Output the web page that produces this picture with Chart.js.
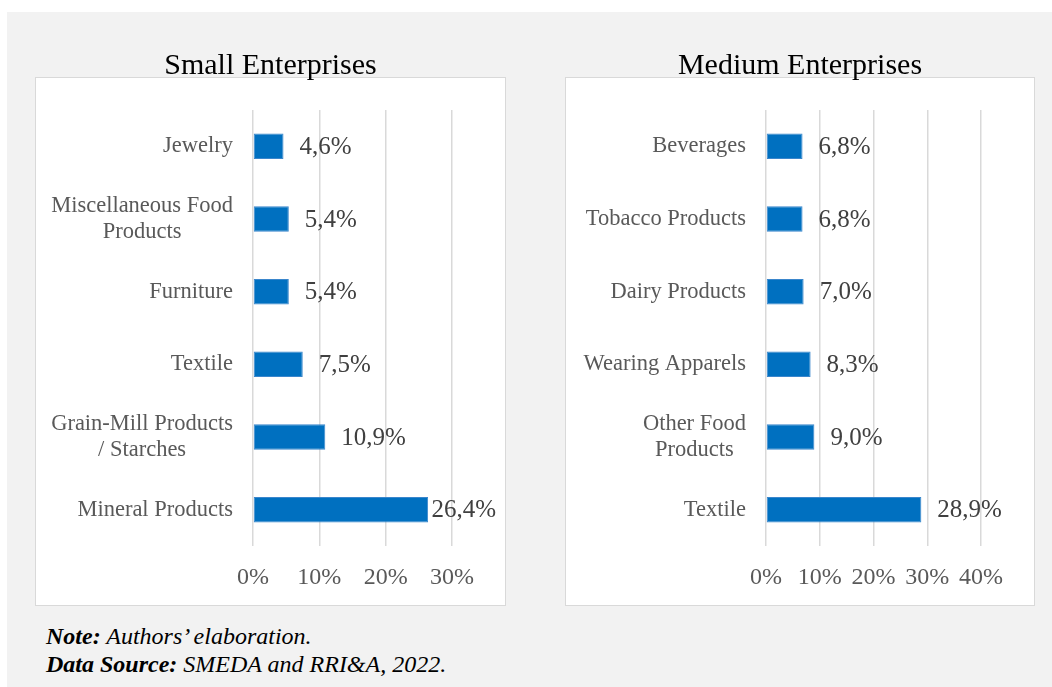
<!DOCTYPE html>
<html>
<head>
<meta charset="utf-8">
<script src="https://cdn.jsdelivr.net/npm/chart.js@4/dist/chart.umd.min.js"></script>
<style>
  html, body { margin: 0; padding: 0; background: #ffffff; }
  body { width: 1052px; height: 687px; position: relative; overflow: hidden; font-family: 'Liberation Serif', serif; }
  #backdrop { position: absolute; left: 7px; top: 12px; width: 1045px; height: 675px; background: #f2f2f2; }
  .panel { position: absolute; top: 77px; height: 529px; background: #ffffff; border: 1.5px solid #d9d9d9; box-sizing: border-box; }
  #panelSmall { left: 35px; width: 471px; }
  #panelMedium { left: 565px; width: 470px; }
  .wrap { position: absolute; top: 40px; height: 567px; }
  #wrapSmall { left: 36px; width: 469px; }
  #wrapMedium { left: 566px; width: 468px; }
  #notes { position: absolute; left: 46px; top: 622px; font-size: 24px; line-height: 28px; font-style: italic; color: #000; }
  #notes b { font-weight: bold; }
</style>
</head>
<body>
<div id="backdrop"></div>
<div class="panel" id="panelSmall"></div>
<div class="panel" id="panelMedium"></div>
<div class="wrap" id="wrapSmall"><canvas id="chartSmall"></canvas></div>
<div class="wrap" id="wrapMedium"><canvas id="chartMedium"></canvas></div>
<div id="notes"><b>Note:</b> Authors’ elaboration.<br><b>Data Source:</b> SMEDA and RRI&amp;A, 2022.</div>

<script>
// Shares of enterprises by industry (%), top row first
const smallTitle = 'Small Enterprises';
const smallCategories = ['Jewelry', ['Miscellaneous Food', 'Products'], 'Furniture', 'Textile', ['Grain-Mill Products', '/ Starches'], 'Mineral Products'];
const smallValues = [4.6, 5.4, 5.4, 7.5, 10.9, 26.4];
const smallTicks = [0, 10, 20, 30];

const mediumTitle = 'Medium Enterprises';
const mediumCategories = ['Beverages', 'Tobacco Products', 'Dairy Products', 'Wearing Apparels', ['Other Food', 'Products'], 'Textile'];
const mediumValues = [6.8, 6.8, 7.0, 8.3, 9.0, 28.9];
const mediumTicks = [0, 10, 20, 30, 40];

const FONT = "'Liberation Serif', serif";
const BAR_COLOR = '#0070c0';

const fmtPct = v => v.toFixed(1).replace('.', ',') + '%';

// Chart title centred over the whole panel (not just the plot area)
const panelTitle = {
  id: 'panelTitle',
  afterDraw(chart, args, opts) {
    const { ctx } = chart;
    ctx.save();
    ctx.font = '30px ' + FONT;
    ctx.fillStyle = '#000000';
    ctx.textAlign = 'center';
    ctx.textBaseline = 'alphabetic';
    ctx.fillText(opts.text, chart.width / 2, 34);
    ctx.restore();
  }
};

// Category labels: block right-aligned against the axis, lines centred within the block
const categoryLabels = {
  id: 'categoryLabels',
  afterDraw(chart) {
    const { ctx, chartArea } = chart;
    const y = chart.scales.y;
    const size = 22.5, lh = 26;
    ctx.save();
    ctx.font = size + 'px ' + FONT;
    ctx.fillStyle = '#595959';
    ctx.textBaseline = 'middle';
    ctx.textAlign = 'center';
    chart.data.labels.forEach((lab, i) => {
      const lines = Array.isArray(lab) ? lab : [lab];
      const maxW = Math.max(...lines.map(l => ctx.measureText(l).width));
      const cx = chartArea.left - 20 - maxW / 2;
      const cy = y.getPixelForValue(i);
      lines.forEach((l, k) => {
        ctx.fillText(l, cx, cy + (k - (lines.length - 1) / 2) * lh);
      });
    });
    ctx.restore();
  }
};

// Value labels just past the end of each bar, kept inside the panel
const valueLabels = {
  id: 'valueLabels',
  afterDatasetsDraw(chart) {
    const { ctx } = chart;
    const meta = chart.getDatasetMeta(0);
    const values = chart.data.datasets[0].data;
    ctx.save();
    ctx.font = '25px ' + FONT;
    ctx.fillStyle = '#404040';
    ctx.textBaseline = 'middle';
    ctx.textAlign = 'left';
    const limit = chart.width - 9;
    meta.data.forEach((bar, i) => {
      const txt = fmtPct(values[i]);
      const w = ctx.measureText(txt).width;
      let x = bar.x + 16;
      if (x + w > limit) x = limit - w;
      ctx.fillText(txt, x, bar.y + 1);
    });
    ctx.restore();
  }
};

function makeChart(id, title, categories, values, ticks, axisWidth) {
  const maxTick = ticks[ticks.length - 1];
  return new Chart(document.getElementById(id), {
    type: 'bar',
    data: {
      labels: categories,
      datasets: [{
        data: values,
        backgroundColor: BAR_COLOR,
        borderColor: '#3a86cc',
        borderWidth: 1,
        borderSkipped: false,
        categoryPercentage: 1,
        barPercentage: 0.35
      }]
    },
    options: {
      indexAxis: 'y',
      responsive: true,
      maintainAspectRatio: false,
      animation: false,
      layout: { padding: { left: 0, right: 53, top: 70, bottom: 0 } },
      plugins: {
        legend: { display: false },
        tooltip: { enabled: false },
        title: { display: false },
        panelTitle: { text: title }
      },
      scales: {
        x: {
          min: 0,
          max: maxTick,
          afterBuildTicks: s => { s.ticks = ticks.map(v => ({ value: v })); },
          afterFit: s => { s.height = 61; },
          grid: { color: '#d9d9d9', lineWidth: 1.5, drawTicks: false },
          border: { display: false },
          ticks: {
            padding: 17,
            color: '#595959',
            font: { family: FONT, size: 24 },
            callback: v => v + '%'
          }
        },
        y: {
          afterFit: s => { s.width = axisWidth; },
          grid: { display: false, drawTicks: false },
          border: { display: false },
          ticks: { display: false }
        }
      }
    },
    plugins: [panelTitle, categoryLabels, valueLabels]
  });
}

makeChart('chartSmall', smallTitle, smallCategories, smallValues, smallTicks, 217);
makeChart('chartMedium', mediumTitle, mediumCategories, mediumValues, mediumTicks, 200);
</script>
</body>
</html>
